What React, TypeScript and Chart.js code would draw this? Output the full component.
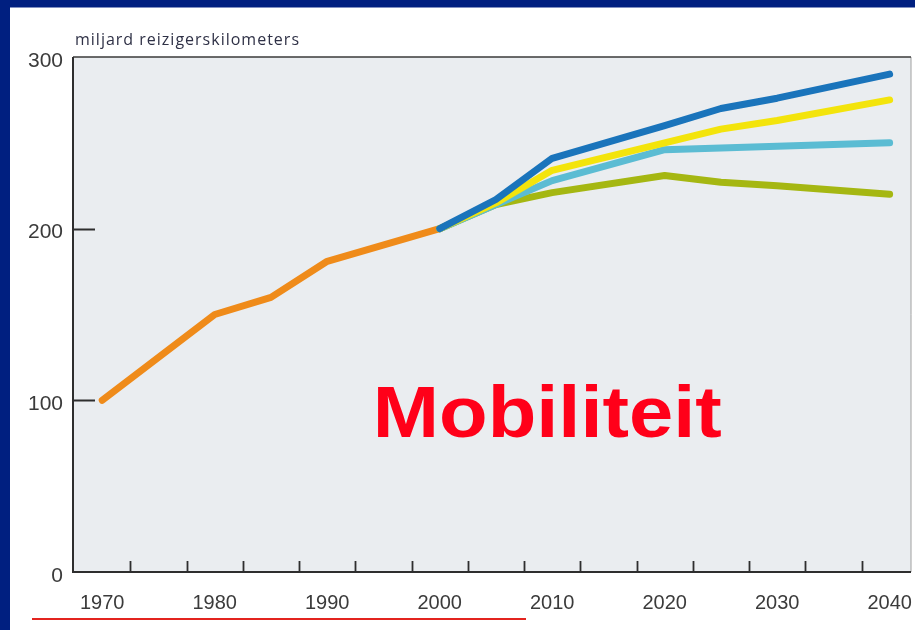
import { useEffect, useRef } from "react";
import { Chart, registerables } from "chart.js";

Chart.register(...registerables);

// ---- data ----
const historyYears = [1970, 1980, 1985, 1990, 2000];
const historyValues = [100, 150, 160, 181, 200];

const scenarioYears = [2000, 2005, 2010, 2020, 2025, 2030, 2040];
const highValues = [200, 217, 241, 260, 270, 276, 290];
const upperMidValues = [200, 215, 234, 250, 258, 263, 275];
const lowerMidValues = [200, 214, 228, 246, 247, 248, 250];
const lowValues = [200, 214, 221, 231, 227, 225, 220];

const xTickLabels = [1970, 1980, 1990, 2000, 2010, 2020, 2030, 2040];
const xTickMarks = [1972.5, 1977.5, 1982.5, 1987.5, 1992.5, 1997.5, 2002.5, 2007.5, 2012.5, 2017.5, 2022.5, 2027.5, 2032.5, 2037.5];
const yTickLabels = [0, 100, 200, 300];
const yTickMarks = [100, 200];

const axisTitle = "miljard reizigerskilometers";
const overlayText = "Mobiliteit";

const toPoints = (xs: number[], ys: number[]) => xs.map((x, i) => ({ x, y: ys[i] }));

const decorPlugin = {
  id: "decor",
  beforeDraw(chart: any) {
    const { ctx, chartArea: a, width, height } = chart;
    ctx.save();
    ctx.fillStyle = "#001f80";
    ctx.fillRect(0, 0, width, height);
    ctx.fillStyle = "#ffffff";
    ctx.fillRect(10, 7.5, width - 10, height - 7.5);
    ctx.fillStyle = "#eaedf0";
    ctx.fillRect(a.left, a.top, a.right - a.left, a.bottom - a.top);
    ctx.restore();
  },
  beforeDatasetsDraw(chart: any) {
    const { ctx, chartArea: a, scales } = chart;
    const xs = scales.x;
    const ys = scales.y;
    ctx.save();
    ctx.strokeStyle = "#a0a0a0";
    ctx.lineWidth = 1;
    ctx.beginPath();
    ctx.moveTo(a.right, a.top);
    ctx.lineTo(a.right, a.bottom);
    ctx.stroke();
    ctx.strokeStyle = "#3a3a3a";
    ctx.lineWidth = 1.5;
    ctx.beginPath();
    ctx.moveTo(a.left, a.top);
    ctx.lineTo(a.right, a.top);
    ctx.stroke();
    ctx.strokeStyle = "#2e2e2e";
    ctx.lineWidth = 2;
    ctx.beginPath();
    ctx.moveTo(a.left, a.top);
    ctx.lineTo(a.left, a.bottom);
    ctx.lineTo(a.right, a.bottom);
    ctx.stroke();
    ctx.lineWidth = 1.8;
    ctx.beginPath();
    xTickMarks.forEach((v) => {
      const px = Math.round(xs.getPixelForValue(v)) + 0.5;
      ctx.moveTo(px, a.bottom);
      ctx.lineTo(px, a.bottom - 11);
    });
    yTickMarks.forEach((v) => {
      const py = Math.round(ys.getPixelForValue(v)) + 0.5;
      ctx.moveTo(a.left, py);
      ctx.lineTo(a.left + 22, py);
    });
    ctx.stroke();
    ctx.restore();
  },
  afterDraw(chart: any) {
    const { ctx, chartArea: a } = chart;
    ctx.save();
    ctx.fillStyle = "#2f3146";
    ctx.font = '16px "Open Sans"';
    (ctx as any).letterSpacing = "1px";
    ctx.textAlign = "left";
    ctx.textBaseline = "middle";
    ctx.fillText(axisTitle, a.left + 2, a.top - 17);
    (ctx as any).letterSpacing = "0px";
    ctx.font = 'bold 73px "Liberation Sans"';
    const w = ctx.measureText(overlayText).width;
    const target = 349;
    const cx = a.left + (a.right - a.left) * 0.566;
    ctx.translate(cx - target / 2, 437);
    ctx.scale(target / w, 1);
    ctx.fillStyle = "#ff0019";
    ctx.textBaseline = "alphabetic";
    ctx.fillText(overlayText, 0, 0);
    ctx.restore();
    ctx.save();
    ctx.strokeStyle = "#e3241f";
    ctx.lineWidth = 2;
    ctx.beginPath();
    ctx.moveTo(32, 619);
    ctx.lineTo(526, 619);
    ctx.stroke();
    ctx.restore();
  },
};

export default function App() {
  const ref = useRef<HTMLCanvasElement | null>(null);
  useEffect(() => {
    document.body.style.margin = "0";
    if (!ref.current) return;
    const lineDs = (label: string, color: string, xs: number[], ys: number[]) => ({
      label,
      data: toPoints(xs, ys),
      borderColor: color,
      backgroundColor: color,
      borderWidth: 7,
      pointRadius: 0,
      tension: 0,
      borderCapStyle: "round",
      borderJoinStyle: "round",
      fill: false,
    });
    const chart = new Chart(ref.current, {
      type: "line",
      data: {
        datasets: [
          lineDs("hoog", "#1a74bb", scenarioYears, highValues),
          lineDs("midden-hoog", "#f3e40c", scenarioYears, upperMidValues),
          lineDs("midden-laag", "#5bbcd3", scenarioYears, lowerMidValues),
          lineDs("laag", "#a5b712", scenarioYears, lowValues),
          lineDs("historie", "#ef8b1a", historyYears, historyValues),
        ] as any,
      },
      options: {
        animation: false,
        responsive: false,
        maintainAspectRatio: false,
        layout: { padding: { left: 0, top: 57, right: 4, bottom: 0 } },
        plugins: { legend: { display: false }, tooltip: { enabled: false } },
        scales: {
          x: {
            type: "linear",
            min: 1967.4,
            max: 2041.9,
            afterBuildTicks: (s: any) => {
              s.ticks = xTickLabels.map((v) => ({ value: v }));
            },
            afterFit: (s: any) => {
              s.height = 58;
              s.paddingLeft = 0;
              s.paddingRight = 0;
            },
            grid: { display: false, drawTicks: false },
            border: { display: false },
            ticks: {
              color: "#3b3b3b",
              font: { family: '"Liberation Sans"', size: 20 },
              padding: 19,
              maxRotation: 0,
              autoSkip: false,
              callback: (v: any) => String(v),
            },
          },
          y: {
            type: "linear",
            min: 0,
            max: 300,
            afterBuildTicks: (s: any) => {
              s.ticks = yTickLabels.map((v) => ({ value: v }));
            },
            afterFit: (s: any) => {
              s.width = 73;
              s.paddingTop = 0;
              s.paddingBottom = 0;
            },
            grid: { display: false, drawTicks: false },
            border: { display: false },
            ticks: {
              color: "#3b3b3b",
              font: { family: '"Liberation Sans"', size: 21 },
              padding: 10,
              labelOffset: 4,
              callback: (v: any) => String(v),
            },
          },
        },
      },
      plugins: [decorPlugin],
    });
    return () => chart.destroy();
  }, []);
  return (
    <div style={{ width: 915, height: 630 }}>
      <canvas ref={ref} width={915} height={630} style={{ display: "block" }} />
    </div>
  );
}
